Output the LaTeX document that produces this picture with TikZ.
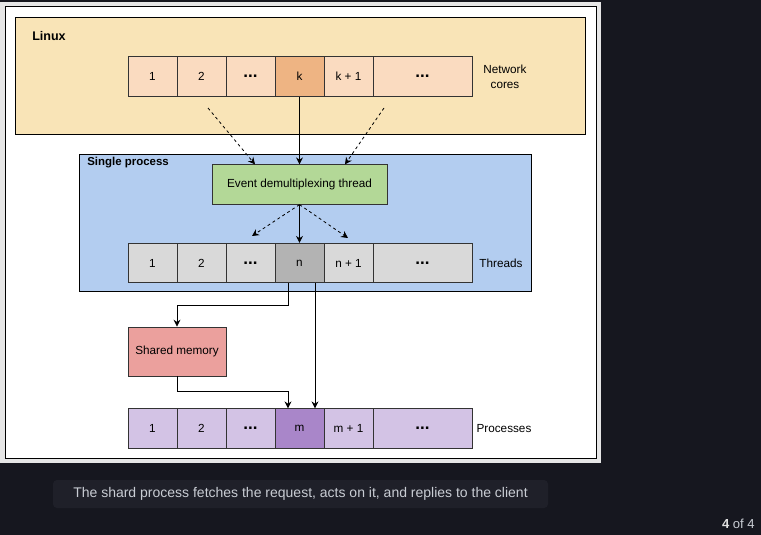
\documentclass[tikz,border=0pt]{standalone}
\usepackage{fontspec}
\setmainfont{Liberation Sans}
\usepackage{tikz}
\usetikzlibrary{arrows.meta,calc,positioning}
\definecolor{bgdark}{HTML}{16171F}
\definecolor{capbox}{HTML}{1F2029}
\definecolor{captext}{HTML}{C9CDD4}
\definecolor{panelgray}{HTML}{E6E6E6}
\definecolor{linuxfill}{HTML}{F9E4B7}
\definecolor{corefill}{HTML}{FADBC0}
\definecolor{corehot}{HTML}{EEB483}
\definecolor{procfill}{HTML}{B3CDF0}
\definecolor{demuxfill}{HTML}{B3D897}
\definecolor{threadfill}{HTML}{D9D9D9}
\definecolor{threadhot}{HTML}{B3B3B3}
\definecolor{shmfill}{HTML}{EBA09D}
\definecolor{pfill}{HTML}{D3C3E5}
\definecolor{phot}{HTML}{A986C9}
\newcommand{\celldots}{{\fontsize{12.75}{12.75}\selectfont\bfseries ...}}

\begin{document}
\begin{tikzpicture}[x=0.75pt,y=-0.75pt,
    cell/.style={draw=black!80,line width=0.6pt,minimum width=36.75pt,minimum height=29.6pt,inner sep=0pt,font=\fontsize{8.8}{10}\selectfont},
    widecell/.style={cell,minimum width=74.25pt},
    lbl/.style={font=\fontsize{8.8}{11.2}\selectfont,align=center,inner sep=0pt},
    arr/.style={-{Stealth[length=5.2pt,width=5.2pt]},line width=0.6pt},
    dasharr/.style={arr,dash pattern=on 2.2pt off 2.2pt}]
 %background
    \useasboundingbox (0,0) rectangle (761,535);
    \fill[bgdark] (0,0) rectangle (761,535);
    \fill[panelgray] (0,2) rectangle (601,463);
    \draw[fill=white,line width=0.75pt] (5,7) rectangle (596,458);
 %Linux
    \draw[fill=linuxfill,line width=0.6pt] (15,17) rectangle (585,134);
    \node[anchor=west,inner sep=0pt,font=\fontsize{9.4}{11}\selectfont\bfseries] (linux) at (32,36) {Linux};
    \node[cell,fill=corefill] (c1) at (152.5,76.5) {1};
    \node[cell,fill=corefill] (c2) at (201.5,76.5) {2};
    \node[cell,fill=corefill] (c3) at (250.5,76.5) {\celldots};
    \node[cell,fill=corehot] (ck) at (299.5,76.5) {k};
    \node[cell,fill=corefill] (ck1) at (348.5,76.5) {k + 1};
    \node[widecell,fill=corefill] (c4) at (422.5,76.5) {\celldots};
    \node[lbl] (cores) at (505,76.5) {Network\\cores};
 %Single process
    \draw[fill=procfill,line width=0.6pt] (79,154) rectangle (531,291);
    \node[anchor=west,inner sep=0pt,font=\fontsize{8.6}{10}\selectfont\bfseries] (single) at (87,163) {Single process};
    \node[cell,fill=demuxfill,minimum width=131.25pt] (demux) at (299.5,184.5) {Event demultiplexing thread};
    \node[cell,fill=threadfill] (t1) at (152.5,263) {1};
    \node[cell,fill=threadfill] (t2) at (201.5,263) {2};
    \node[cell,fill=threadfill] (t3) at (250.5,263) {\celldots};
    \node[cell,fill=threadhot] (tn) at (299.5,263) {n};
    \node[cell,fill=threadfill] (tn1) at (348.5,263) {n + 1};
    \node[widecell,fill=threadfill] (t4) at (422.5,263) {\celldots};
    \node[lbl] (threads) at (501,263) {Threads};
 %Shared memory and processes
    \node[cell,fill=shmfill,minimum width=73.5pt,minimum height=36.75pt] (shm) at (177,351.5) {Shared memory};
    \node[cell,fill=pfill] (p1) at (152.5,428.5) {1};
    \node[cell,fill=pfill] (p2) at (201.5,428.5) {2};
    \node[cell,fill=pfill] (p3) at (250.5,428.5) {\celldots};
    \node[cell,fill=phot] (pm) at (299.5,428.5) {m};
    \node[cell,fill=pfill] (pm1) at (348.5,428.5) {m + 1};
    \node[widecell,fill=pfill] (p4) at (422.5,428.5) {\celldots};
    \node[lbl] (procs) at (504,428.5) {Processes};
 %arrows
    \coordinate (dl) at (208,108);
    \coordinate (dr) at (384,108);
    \coordinate (tl) at (252,236);
    \coordinate (tr) at (348,238);
    \draw[dasharr] (dl) -- ($(demux.north)+(-44.5,0)$);
    \draw[dasharr] (dr) -- ($(demux.north)+(45.5,0)$);
    \draw[arr] (ck.south) -- (demux.north);
    \draw[dasharr] (demux.south) -- (tl);
    \draw[dasharr] (demux.south) -- (tr);
    \draw[arr] (demux.south) -- (tn.north);
    \draw[arr] ($(tn.south)+(-11.5,0)$) -- ++(0,22) -| (shm.north);
    \draw[arr] ($(tn.south)+(15.5,0)$) -- ($(pm.north)+(15.5,0)$);
    \draw[arr] (shm.south) -- ++(0,15) -| ($(pm.north)+(-11.5,0)$);
 %caption
    \node[fill=capbox,text=captext,rounded corners=3pt,minimum width=371.25pt,minimum height=21pt,font=\fontsize{10.5}{12}\selectfont] (cap) at (300.5,494) {The shard process fetches the request, acts on it, and replies to the client};
    \node[anchor=east,inner sep=0pt,font=\fontsize{9.8}{12}\selectfont,text=captext] (page) at (755,524) {\textcolor{white!88!black}{\bfseries 4} of 4};
\end{tikzpicture}
\end{document}
